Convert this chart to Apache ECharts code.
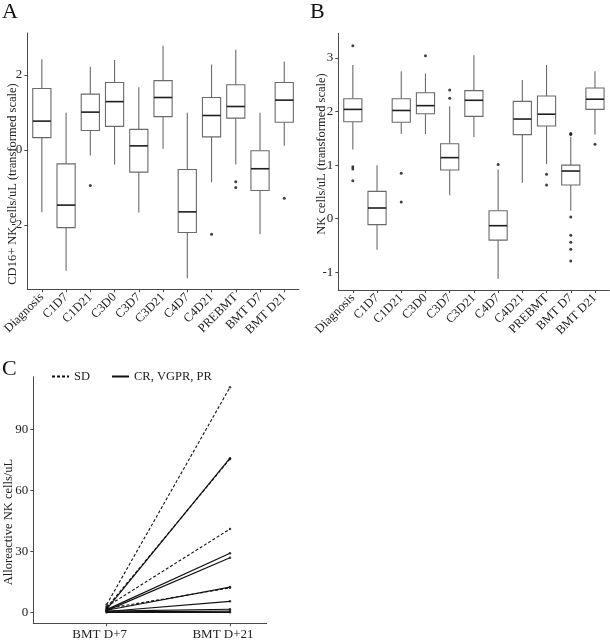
<!DOCTYPE html>
<html><head><meta charset="utf-8">
<script src="https://cdn.jsdelivr.net/npm/echarts@6/dist/echarts.min.js"></script>
<style>html,body{margin:0;padding:0;background:#fff}#c{width:610px;height:640px}</style>
</head><body><div id="c"></div>
<script>
// ---------- data ----------
const categories = ['Diagnosis','C1D7','C1D21','C3D0','C3D7','C3D21','C4D7','C4D21','PREBMT','BMT D7','BMT D21'];
const yTicksA = [-2, 0, 2];
const yTicksB = [-1, 0, 1, 2, 3];
const yTicksC = [0, 30, 60, 90];

// Panel A: CD16+ NK cells/uL (transformed scale)
const aMin = [-1.66,-3.22,-0.15,-0.39,-1.67,0.03,-3.42,-0.86,-0.39,-2.25,0.11];
const aQ1  = [0.33,-2.07,0.52,0.63,-0.59,0.89,-2.20,0.35,0.85,-1.08,0.74];
const aMed = [0.77,-1.47,1.01,1.29,0.11,1.40,-1.65,0.92,1.16,-0.50,1.33];
const aQ3  = [1.64,-0.37,1.49,1.80,0.55,1.85,-0.52,1.40,1.74,-0.02,1.80];
const aMax = [2.42,0.99,2.22,2.40,1.67,2.78,0.99,2.28,2.67,0.99,2.36];
const aOutCat = ['C1D21','C4D21','PREBMT','PREBMT','BMT D21'];
const aOutVal = [-0.95,-2.25,-0.85,-1.00,-1.29];

// Panel B: NK cells/uL (transformed scale)
const bMin = [1.29,-0.58,1.58,1.58,0.44,1.52,-1.12,0.67,1.02,0.15,1.57];
const bQ1  = [1.81,-0.11,1.80,1.96,0.91,1.91,-0.40,1.57,1.73,0.63,2.04];
const bMed = [2.04,0.20,2.02,2.11,1.14,2.21,-0.13,1.86,1.95,0.89,2.23];
const bQ3  = [2.24,0.51,2.24,2.35,1.40,2.39,0.15,2.19,2.29,1.00,2.44];
const bMax = [2.87,1.00,2.75,2.71,2.10,3.05,0.92,2.59,2.87,1.53,2.75];
const bOutCat = ['Diagnosis','Diagnosis','Diagnosis','Diagnosis','C1D21','C1D21','C3D0','C3D7','C3D7','C4D7','PREBMT','PREBMT','BMT D7','BMT D7','BMT D7','BMT D7','BMT D7','BMT D7','BMT D7','BMT D21'];
const bOutVal = [3.23,0.97,0.93,0.71,0.85,0.31,3.04,2.40,2.25,1.01,0.83,0.63,1.59,1.57,0.03,-0.31,-0.44,-0.57,-0.79,1.39];

// Panel C: Alloreactive NK cells/uL
const cTimeLabels = ['BMT D+7','BMT D+21'];
const cDays = [7, 21];
const sdD7  = [4.0, 2.5, 3.0, 2.0];
const sdD21 = [110.7, 75.5, 41.1, 12.2];
const crD7  = [1.8, 1.5, 1.0, 1.2, 0.6, 0.8, 0.4, 0.2];
const crD21 = [75.9, 29.2, 27.0, 12.6, 5.6, 1.7, 0.8, 0.2];

// ---------- chart ----------
const SERIF = '"Liberation Serif", "DejaVu Serif", serif';
const AX = '#4a4a4a';
const chart = echarts.init(document.getElementById('c'), null, {renderer: 'canvas'});

function boxRows(mn, q1, md, q3, mx) {
  return categories.map((c, i) => [i + 1, mn[i], q1[i], md[i], q3[i], mx[i]]);
}
function outRows(cats, vals) {
  return cats.map((c, i) => [categories.indexOf(c) + 1, vals[i]]);
}
function boxRender(params, api) {
  const x = api.value(0);
  const pMin = api.coord([x, api.value(1)]);
  const pQ1 = api.coord([x, api.value(2)]);
  const pMed = api.coord([x, api.value(3)]);
  const pQ3 = api.coord([x, api.value(4)]);
  const pMax = api.coord([x, api.value(5)]);
  const w = api.size([1, 0])[0] * 0.75;
  const cx = pMed[0];
  const ls = {stroke: '#6a6a6a', lineWidth: 1.1};
  return {type: 'group', children: [
    {type: 'line', shape: {x1: cx, y1: pMax[1], x2: cx, y2: pQ3[1]}, style: ls},
    {type: 'line', shape: {x1: cx, y1: pQ1[1], x2: cx, y2: pMin[1]}, style: ls},
    {type: 'rect', shape: {x: cx - w / 2, y: pQ3[1], width: w, height: pQ1[1] - pQ3[1]}, style: {fill: '#fff', stroke: '#6a6a6a', lineWidth: 1.1}},
    {type: 'line', shape: {x1: cx - w / 2, y1: pMed[1], x2: cx + w / 2, y2: pMed[1]}, style: {stroke: '#1e1e1e', lineWidth: 1.6}}
  ]};
}

const catIdx = categories.map((c, i) => i + 1);
function catXAxis(gridIndex) {
  return {
    type: 'value', gridIndex, min: 0.4, max: 11.6,
    axisLine: {show: true, onZero: false, lineStyle: {color: AX, width: 1}},
    axisTick: {show: true, length: 3, customValues: catIdx, lineStyle: {color: AX}},
    axisLabel: {customValues: catIdx, formatter: v => categories[Math.round(v) - 1], rotate: 45, margin: 6,
      fontFamily: SERIF, fontSize: 12.5, color: '#222'},
    splitLine: {show: false}
  };
}
function valYAxis(gridIndex, min, max, ticks) {
  return {
    type: 'value', gridIndex, min, max,
    axisLine: {show: true, onZero: false, lineStyle: {color: AX, width: 1}},
    axisTick: {show: true, length: 3, customValues: ticks, lineStyle: {color: AX}},
    axisLabel: {customValues: ticks, margin: 5, fontFamily: SERIF, fontSize: 13, color: '#222'},
    splitLine: {show: false}
  };
}

const series = [
  {type: 'custom', xAxisIndex: 0, yAxisIndex: 0, renderItem: boxRender, encode: {x: 0, y: [1, 2, 3, 4, 5]}, data: boxRows(aMin, aQ1, aMed, aQ3, aMax), silent: true},
  {type: 'scatter', xAxisIndex: 0, yAxisIndex: 0, data: outRows(aOutCat, aOutVal), symbolSize: 3, itemStyle: {color: '#111'}, silent: true},
  {type: 'custom', xAxisIndex: 1, yAxisIndex: 1, renderItem: boxRender, encode: {x: 0, y: [1, 2, 3, 4, 5]}, data: boxRows(bMin, bQ1, bMed, bQ3, bMax), silent: true},
  {type: 'scatter', xAxisIndex: 1, yAxisIndex: 1, data: outRows(bOutCat, bOutVal), symbolSize: 3, itemStyle: {color: '#111'}, silent: true}
];
sdD7.forEach((v, i) => series.push({
  name: 'SD', type: 'line', xAxisIndex: 2, yAxisIndex: 2, symbol: 'none', silent: true,
  itemStyle: {color: '#111'},
  lineStyle: {color: '#111', width: 1.1, type: [3, 2]},
  data: [[cDays[0], v], [cDays[1], sdD21[i]]]
}));
crD7.forEach((v, i) => series.push({
  name: 'CR, VGPR, PR', type: 'line', xAxisIndex: 2, yAxisIndex: 2, symbol: 'none', silent: true,
  itemStyle: {color: '#111'},
  lineStyle: {color: '#111', width: 1.2},
  data: [[cDays[0], v], [cDays[1], crD21[i]]]
}));
series.push({
  type: 'scatter', xAxisIndex: 2, yAxisIndex: 2, symbolSize: 2.5, silent: true, itemStyle: {color: '#111'},
  data: sdD7.map(v => [cDays[0], v]).concat(sdD21.map(v => [cDays[1], v]), crD7.map(v => [cDays[0], v]), crD21.map(v => [cDays[1], v]))
});

const option = {
  animation: false,
  backgroundColor: '#fff',
  grid: [
    {left: 27.3, top: 33, width: 271.5, height: 256.3, containLabel: false, outerBoundsMode: 'none'},
    {left: 338.3, top: 33.3, width: 271.2, height: 256.7, containLabel: false, outerBoundsMode: 'none'},
    {left: 33.3, top: 376.7, width: 233.4, height: 246.6, containLabel: false, outerBoundsMode: 'none'}
  ],
  xAxis: [
    catXAxis(0),
    catXAxis(1),
    {
      type: 'value', gridIndex: 2, min: -1.33, max: 25.17,
      axisLine: {show: true, onZero: false, lineStyle: {color: AX, width: 1}},
      axisTick: {show: true, length: 3, customValues: cDays, lineStyle: {color: AX}},
      axisLabel: {customValues: cDays, formatter: v => cTimeLabels[cDays.indexOf(v)], margin: 5,
        fontFamily: SERIF, fontSize: 13, color: '#222', padding: [0, 14, 0, 0]},
      splitLine: {show: false}
    }
  ],
  yAxis: [
    valYAxis(0, -3.715, 3.12, yTicksA),
    valYAxis(1, -1.33, 3.46, yTicksB),
    valYAxis(2, -5.2, 115.9, yTicksC)
  ],
  legend: {
    data: ['SD', 'CR, VGPR, PR'], left: 46, top: 365, itemWidth: 17, itemHeight: 10, itemGap: 21,
    selectedMode: false,
    itemStyle: {opacity: 0},
    textStyle: {fontFamily: SERIF, fontSize: 12.5, color: '#222'}
  },
  graphic: [
    {type: 'text', left: 2, top: 1, style: {text: 'A', font: '22px ' + SERIF, fill: '#111'}},
    {type: 'text', left: 310, top: 1, style: {text: 'B', font: '22px ' + SERIF, fill: '#111'}},
    {type: 'text', left: 2, top: 358, style: {text: 'C', font: '22px ' + SERIF, fill: '#111'}},
    {type: 'text', x: 13, y: 184, rotation: Math.PI / 2, style: {text: 'CD16+ NK cells/uL (transformed scale)', font: '12.5px ' + SERIF, fill: '#222', align: 'center', verticalAlign: 'middle'}},
    {type: 'text', x: 322, y: 154, rotation: Math.PI / 2, style: {text: 'NK cells/uL (transformed scale)', font: '12.5px ' + SERIF, fill: '#222', align: 'center', verticalAlign: 'middle'}},
    {type: 'text', x: 9, y: 522, rotation: Math.PI / 2, style: {text: 'Alloreactive NK cells/uL', font: '12.5px ' + SERIF, fill: '#222', align: 'center', verticalAlign: 'middle'}}
  ],
  series
};
chart.setOption(option);
</script>
</body></html>
